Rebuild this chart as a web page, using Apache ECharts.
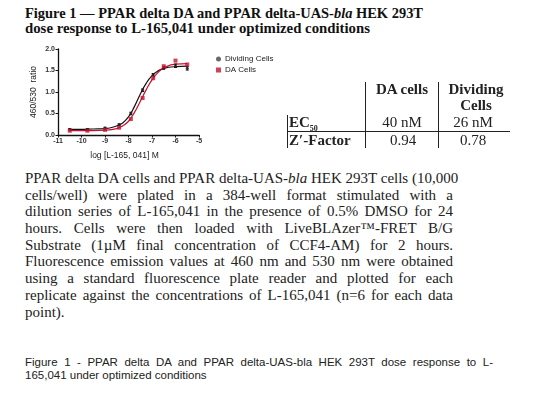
<!DOCTYPE html>
<html>
<head>
<meta charset="utf-8">
<script src="https://cdn.jsdelivr.net/npm/echarts@6/dist/echarts.min.js"></script>
<style>
body { margin: 0; background: #fff; }
#page { position: relative; width: 534px; height: 399px; overflow: hidden; background: #fff; }
.title { position: absolute; left: 25px; font-family: "Liberation Serif", serif; font-weight: bold; font-size: 14.5px; color: #111; white-space: nowrap; transform-origin: 0 0; }
#chart { position: absolute; left: 0; top: 40px; width: 300px; height: 125px; }
.cell { position: absolute; width: 100px; text-align: center; font-family: "Liberation Serif", serif; font-size: 15px; color: #222; white-space: nowrap; }
.lft { text-align: left; width: auto; }
.b { font-weight: bold; }
.vl { position: absolute; width: 1px; background: #222; }
.hl { position: absolute; height: 1px; background: #222; }
.para { position: absolute; left: 25px; width: 428px; font-family: "Liberation Serif", serif; font-size: 15px; color: #222; }
.para div { height: 16.7px; line-height: 16.7px; text-align: justify; text-align-last: justify; white-space: nowrap; }
.para div.last { text-align-last: left; }
.cap { position: absolute; left: 25px; width: 468px; font-family: "Liberation Sans", Arial, sans-serif; font-size: 11.5px; color: #222; }
.cap div { height: 13px; line-height: 13px; text-align: justify; text-align-last: justify; white-space: nowrap; }
.cap div.last { text-align-last: left; }
</style>
</head>
<body>
<div id="page">
  <div class="title" id="t1" style="top:5px">Figure 1 — PPAR delta DA and PPAR delta-UAS-<i>bla</i> HEK 293T</div>
  <div class="title" id="t2" style="top:20px">dose response to L-165,041 under optimized conditions</div>

  <div id="chart"></div>

  <!-- table -->
  <div class="vl" style="left:365px; top:82px; height:66px"></div>
  <div class="vl" style="left:438px; top:82px; height:66px"></div>
  <div class="vl" style="left:287px; top:115px; height:33px"></div>
  <div class="hl" style="left:287px; top:131px; width:223px"></div>
  <div class="cell b" style="left:352px; top:81px">DA cells</div>
  <div class="cell b" style="left:426px; top:81px">Dividing</div>
  <div class="cell b" style="left:426px; top:97px">Cells</div>
  <div class="cell b lft" style="left:289px; top:114px">EC<sub style="font-size:8px">50</sub></div>
  <div class="cell" style="left:352px; top:114px">40 nM</div>
  <div class="cell" style="left:423px; top:114px">26 nM</div>
  <div class="cell b lft" style="left:289px; top:132px">Z′-Factor</div>
  <div class="cell" style="left:353px; top:132px">0.94</div>
  <div class="cell" style="left:423px; top:132px">0.78</div>

  <div class="para" style="top:170px">
    <div>PPAR delta DA cells and PPAR delta-UAS-<i>bla</i> HEK 293T cells (10,000</div>
    <div>cells/well) were plated in a 384-well format stimulated with a</div>
    <div>dilution series of L-165,041 in the presence of 0.5% DMSO for 24</div>
    <div>hours. Cells were then loaded with LiveBLAzer™-FRET B/G</div>
    <div>Substrate (1µM final concentration of CCF4-AM) for 2 hours.</div>
    <div>Fluorescence emission values at 460 nm and 530 nm were obtained</div>
    <div>using a standard fluorescence plate reader and plotted for each</div>
    <div>replicate against the concentrations of L-165,041 (n=6 for each data</div>
    <div class="last">point).</div>
  </div>

  <div class="cap" style="top:356px">
    <div>Figure 1 - PPAR delta DA and PPAR delta-UAS-bla HEK 293T dose response to L-</div>
    <div class="last">165,041 under optimized conditions</div>
  </div>
</div>
<script>
// log concentration of each dilution point
var logConc = [-10.5, -9.75, -9, -8.4, -7.9, -7.4, -6.95, -6.5, -6, -5.5];
// 460/530 ratio, dividing cells (black) and DA cells (red)
var dividing = [0.13, 0.13, 0.16, 0.24, 0.50, 1.04, 1.40, 1.56, 1.61, 1.55];
var dividingErr = [0.02, 0.02, 0.02, 0.02, 0.03, 0.03, 0.03, 0.03, 0.04, 0.04];
var daCells = [0.10, 0.10, 0.12, 0.17, 0.37, 0.86, 1.32, 1.60, 1.73, 1.64];
// fitted curves
var fitX = [-10.5, -10, -9.5, -9, -8.5, -8.25, -8, -7.75, -7.5, -7.25, -7, -6.75, -6.5, -6, -5.5];
var fitDividing = [0.13, 0.13, 0.14, 0.15, 0.21, 0.28, 0.42, 0.66, 0.95, 1.20, 1.38, 1.49, 1.55, 1.59, 1.60];
var fitDA = [0.10, 0.10, 0.10, 0.11, 0.15, 0.21, 0.32, 0.52, 0.78, 1.05, 1.28, 1.45, 1.56, 1.65, 1.66];
var xTicks = [-11, -5, 1];
var yTicks = [0, 2, 0.5];

// fit title lines to the width they have in the original
function stretch(id, w) {
    var el = document.getElementById(id);
    var cur = el.getBoundingClientRect().width;
    el.style.transform = 'scaleX(' + (w / cur) + ')';
}
stretch('t1', 398);
stretch('t2', 345);

var chart = echarts.init(document.getElementById('chart'));

function pairs(xs, ys) {
    return xs.map(function (x, i) { return [x, ys[i]]; });
}

chart.setOption({
    animation: false,
    textStyle: { fontFamily: 'Liberation Sans' },
    grid: { left: 58, top: 9, width: 141, height: 91 },
    legend: {
        left: 211, top: 10,
        orient: 'vertical',
        itemGap: 3,
        itemWidth: 5, itemHeight: 5,
        textStyle: { fontSize: 8, color: '#222', padding: [0, 0, 0, -1] },
        data: [
            { name: 'Dividing Cells', icon: 'circle', itemStyle: { color: '#444' } },
            { name: 'DA Cells', icon: 'rect', itemStyle: { color: '#c8102e' } }
        ]
    },
    xAxis: {
        type: 'value', min: xTicks[0], max: xTicks[1], interval: xTicks[2],
        name: 'log [L-165, 041] M', nameLocation: 'middle', nameGap: 16,
        nameTextStyle: { fontSize: 8.5, color: '#222', padding: [0, 8, 0, 0] },
        axisLine: { onZero: false, lineStyle: { color: '#111', width: 1.3 } },
        axisTick: { length: 2.5, lineStyle: { color: '#111' } },
        axisLabel: { fontSize: 7, fontWeight: 'bold', color: '#333', margin: 3 },
        splitLine: { show: false }
    },
    yAxis: {
        type: 'value', min: yTicks[0], max: yTicks[1], interval: yTicks[2],
        name: '460/530  ratio', nameLocation: 'middle', nameGap: 20,
        nameTextStyle: { fontSize: 8.5, color: '#222' },
        axisLine: { show: true, lineStyle: { color: '#111', width: 1.3 } },
        axisTick: { show: true, length: 2.5, lineStyle: { color: '#111' } },
        axisLabel: { fontSize: 7, fontWeight: 'bold', color: '#333', margin: 3,
            formatter: function (v) { return v.toFixed(1); } },
        splitLine: { show: false }
    },
    series: [
        {
            name: 'fitDividing', type: 'line', smooth: true, showSymbol: false,
            data: pairs(fitX, fitDividing), lineStyle: { color: '#111', width: 1.2 },
            silent: true, z: 2
        },
        {
            name: 'fitDA', type: 'line', smooth: true, showSymbol: false,
            data: pairs(fitX, fitDA), lineStyle: { color: '#c8102e', width: 1.2 },
            silent: true, z: 2
        },
        {
            name: 'errDividing', type: 'custom', silent: true, z: 3,
            data: logConc.map(function (x, i) { return [x, dividing[i] - dividingErr[i], dividing[i] + dividingErr[i]]; }),
            renderItem: function (params, api) {
                var lo = api.coord([api.value(0), api.value(1)]);
                var hi = api.coord([api.value(0), api.value(2)]);
                var st = { stroke: '#111', lineWidth: 1 };
                return { type: 'group', children: [
                    { type: 'line', shape: { x1: lo[0], y1: lo[1], x2: hi[0], y2: hi[1] }, style: st },
                    { type: 'line', shape: { x1: hi[0] - 1.5, y1: hi[1], x2: hi[0] + 1.5, y2: hi[1] }, style: st },
                    { type: 'line', shape: { x1: lo[0] - 1.5, y1: lo[1], x2: lo[0] + 1.5, y2: lo[1] }, style: st }
                ] };
            }
        },
        {
            name: 'Dividing Cells', type: 'scatter', symbol: 'circle', symbolSize: 3,
            data: pairs(logConc, dividing), itemStyle: { color: '#222' }, z: 4
        },
        {
            name: 'DA Cells', type: 'scatter', symbol: 'rect', symbolSize: 4,
            data: pairs(logConc, daCells), itemStyle: { color: '#c8102e' }, z: 5
        }
    ]
});
</script>
</body>
</html>
